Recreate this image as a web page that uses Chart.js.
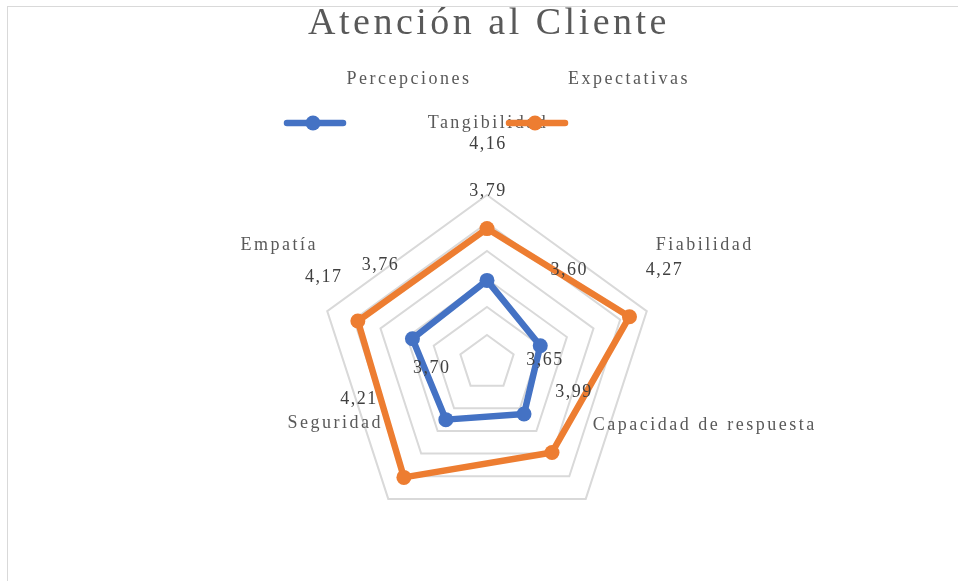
<!DOCTYPE html>
<html>
<head>
<meta charset="utf-8">
<script src="https://cdn.jsdelivr.net/npm/chart.js@4.4.0/dist/chart.umd.min.js"></script>
<style>
  body { margin: 0; background: #fff; }
</style>
</head>
<body>
<canvas id="myChart" width="958" height="581"></canvas>
<script>
    var chartTitle = 'Atención al Cliente'
    var labels = ['Tangibilidad', 'Fiabilidad', 'Capacidad de respuesta', 'Seguridad', 'Empatía']
    var percepciones = [3.79, 3.60, 3.65, 3.70, 3.76]
    var expectativas = [4.16, 4.27, 3.99, 4.21, 4.17]
    var scaleMin = 3.2
    var scaleMax = 4.4
    var scaleStep = 0.2

    // where the labels sit (px) relative to their point, as dragged in the original sheet
    var valueOffsets = [
        [[1, -89], [29, -75], [21, -54], [-14, -51], [-32, -74]],
        [[1, -84], [35, -46], [22, -60], [-45, -78], [-34, -44]]
    ]
    var axisOffsets = [[1, -72], [58, -66], [119, -74], [-53, -76], [-48, -66]]

    function spaced(ctx, font, spacing, color) {
        ctx.font = font
        ctx.letterSpacing = spacing
        ctx.fillStyle = color
    }

    var excelText = {
        id: 'excelText',
        beforeDraw: function(chart) {
            var ctx = chart.ctx
            ctx.save()
            ctx.strokeStyle = '#d9d9d9'
            ctx.lineWidth = 1
            ctx.strokeRect(7.5, 6.5, 2000, 2000)
            ctx.restore()
        },
        afterDatasetsDraw: function(chart) {
            var ctx = chart.ctx
            var r = chart.scales.r
            ctx.save()
            ctx.textAlign = 'center'
            ctx.textBaseline = 'alphabetic'

            // title
            spaced(ctx, '38px "Liberation Serif"', '3.5px', '#595959')
            ctx.fillText(chartTitle, 489, 34)

            ctx.textBaseline = 'middle'

            // axis names
            spaced(ctx, '18px "Liberation Serif"', '2.5px', '#595959')
            labels.forEach(function(name, i) {
                var p = r.getPointPosition(i, r.drawingArea)
                ctx.fillText(name, p.x + axisOffsets[i][0], p.y + axisOffsets[i][1])
            })

            // value labels
            spaced(ctx, '18px "Liberation Serif"', '1.5px', '#404040')
            chart.data.datasets.forEach(function(ds, d) {
                var meta = chart.getDatasetMeta(d)
                meta.data.forEach(function(pt, i) {
                    var txt = ds.data[i].toFixed(2).replace('.', ',')
                    ctx.fillText(txt, pt.x + valueOffsets[d][i][0], pt.y + valueOffsets[d][i][1])
                })
            })

            // legend: names on one row, markers on the row below
            var legendText = [[409, 79], [629, 79]]
            var legendLine = [[287, 343, 123], [509, 565, 123]]
            chart.data.datasets.forEach(function(ds, d) {
                spaced(ctx, '18px "Liberation Serif"', '2.5px', '#595959')
                ctx.fillText(ds.label, legendText[d][0], legendText[d][1])
                var l = legendLine[d]
                ctx.strokeStyle = ds.borderColor
                ctx.lineWidth = 6.5
                ctx.lineCap = 'round'
                ctx.beginPath()
                ctx.moveTo(l[0], l[2])
                ctx.lineTo(l[1], l[2])
                ctx.stroke()
                ctx.fillStyle = ds.borderColor
                ctx.beginPath()
                ctx.arc((l[0] + l[1]) / 2 - 2, l[2], 7.5, 0, Math.PI * 2)
                ctx.fill()
            })
            ctx.restore()
        }
    }

    var ctx = document.getElementById('myChart').getContext('2d');
    var myChart = new Chart(ctx, {
        type: 'radar',
        data: {
            labels: labels,
            datasets: [{
                label: 'Percepciones',
                data: percepciones,
                borderColor: '#4472C4',
                backgroundColor: '#4472C4',
                pointBackgroundColor: '#4472C4',
                borderWidth: 6.5,
                borderJoinStyle: 'round',
                pointRadius: 7.5,
                pointBorderWidth: 0,
                fill: false
            }, {
                label: 'Expectativas',
                data: expectativas,
                borderColor: '#ED7D31',
                backgroundColor: '#ED7D31',
                pointBackgroundColor: '#ED7D31',
                borderWidth: 6.5,
                borderJoinStyle: 'round',
                pointRadius: 7.5,
                pointBorderWidth: 0,
                fill: false
            }]
        },
        options: {
            responsive: false,
            animation: false,
            events: [],
            layout: {
                padding: { top: 195, bottom: 50, left: 200, right: 184 }
            },
            plugins: {
                legend: { display: false },
                title: { display: false },
                tooltip: { enabled: false }
            },
            scales: {
                r: {
                    min: scaleMin,
                    max: scaleMax,
                    beginAtZero: false,
                    ticks: { display: false, stepSize: scaleStep },
                    grid: { color: '#d9d9d9', lineWidth: 2 },
                    angleLines: { display: false },
                    pointLabels: { display: false }
                }
            }
        },
        plugins: [excelText]
    });
</script>
</body>
</html>
